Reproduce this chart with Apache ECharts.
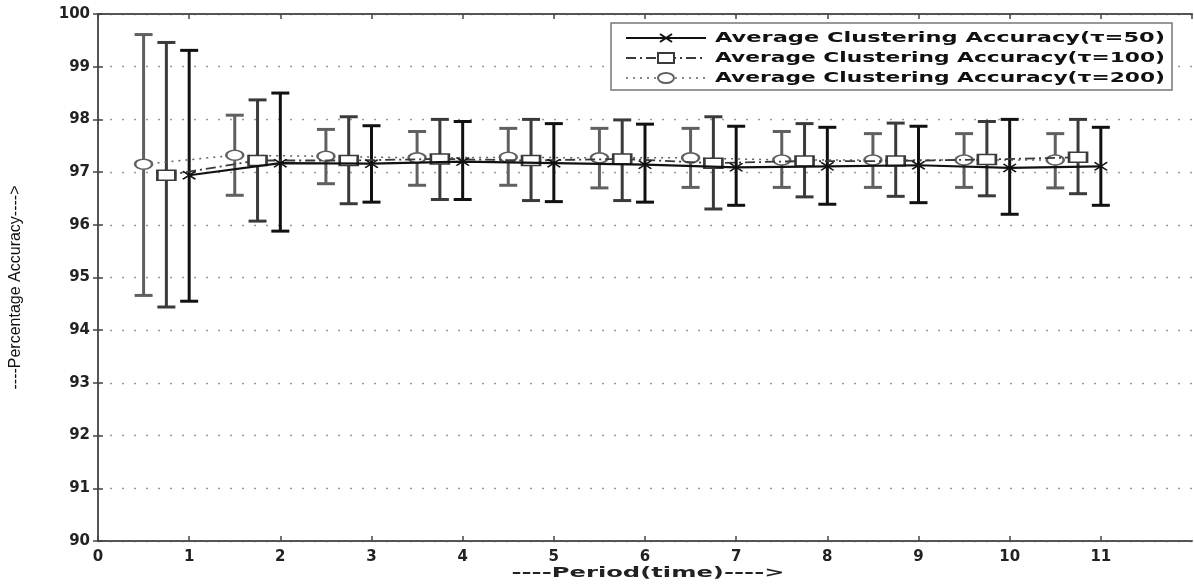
<!DOCTYPE html>
<html><head><meta charset="utf-8">
<script src="https://cdn.jsdelivr.net/npm/echarts@6/dist/echarts.min.js"></script>
<style>html,body{margin:0;padding:0;background:#fff}#c{width:1194px;height:584px}</style>
</head><body><div id="c"></div>
<script>
// ---- data ----
const names = ['Average Clustering Accuracy(\u03c4=50)', 'Average Clustering Accuracy(\u03c4=100)', 'Average Clustering Accuracy(\u03c4=200)'];
const xTitle = '----Period(time)---->';
const yTitle = '----Percentage Accuracy---->';

const period50  = [1, 2, 3, 4, 5, 6, 7, 8, 9, 10, 11];
const mean50    = [96.94, 97.17, 97.16, 97.20, 97.17, 97.14, 97.09, 97.11, 97.13, 97.08, 97.11];
const high50    = [99.31, 98.50, 97.88, 97.96, 97.92, 97.91, 97.87, 97.85, 97.87, 98.00, 97.85];
const low50     = [94.55, 95.88, 96.43, 96.48, 96.44, 96.43, 96.37, 96.39, 96.42, 96.20, 96.37];

const period100 = [0.75, 1.75, 2.75, 3.75, 4.75, 5.75, 6.75, 7.75, 8.75, 9.75, 10.75];
const mean100   = [96.94, 97.22, 97.22, 97.25, 97.22, 97.25, 97.17, 97.21, 97.21, 97.24, 97.28];
const high100   = [99.46, 98.37, 98.05, 98.00, 98.00, 97.99, 98.05, 97.92, 97.93, 97.96, 98.00];
const low100    = [94.44, 96.07, 96.40, 96.48, 96.46, 96.46, 96.30, 96.53, 96.54, 96.55, 96.59];

const period200 = [0.5, 1.5, 2.5, 3.5, 4.5, 5.5, 6.5, 7.5, 8.5, 9.5, 10.5];
const mean200   = [97.15, 97.32, 97.30, 97.27, 97.28, 97.27, 97.27, 97.23, 97.23, 97.23, 97.23];
const high200   = [99.61, 98.08, 97.81, 97.77, 97.83, 97.83, 97.83, 97.77, 97.73, 97.73, 97.73];
const low200    = [94.66, 96.56, 96.78, 96.75, 96.75, 96.70, 96.71, 96.71, 96.71, 96.71, 96.70];

const xMin = 0, xMax = 12, xStep = 1;
const yMin = 90, yMax = 100, yStep = 1;

// ---- styles ----
const C50 = '#111111', C100 = '#3a3a3a', C200 = '#606060';
const DASH100 = [10, 4, 2, 4], DOT200 = [2, 5];
const FONT = '"DejaVu Sans", "Liberation Sans", sans-serif';
const crossPath = 'path://M0,1L1,0L5,4L9,0L10,1L6,5L10,9L9,10L5,6L1,10L0,9L4,5Z';

function errRender(color, lw) {
  return function (params, api) {
    const x = api.value(0), lo = api.value(1), hi = api.value(2);
    const pt = api.coord([x, hi]), pb = api.coord([x, lo]);
    const hw = 9;
    const st = { stroke: color, lineWidth: lw };
    return { type: 'group', children: [
      { type: 'line', shape: { x1: pt[0], y1: pt[1], x2: pb[0], y2: pb[1] }, style: st },
      { type: 'line', shape: { x1: pt[0] - hw, y1: pt[1], x2: pt[0] + hw, y2: pt[1] }, style: st },
      { type: 'line', shape: { x1: pb[0] - hw, y1: pb[1], x2: pb[0] + hw, y2: pb[1] }, style: st }
    ]};
  };
}
const zip3 = (xs, a, b) => xs.map((x, i) => [x, a[i], b[i]]);
const zip2 = (xs, a) => xs.map((x, i) => [x, a[i]]);

// ---- legend (drawn as graphic so the wide, stretched lettering can be matched) ----
const LG = { left: 611, top: 23, width: 561, height: 67, rows: [38, 58, 78], lineX1: 626, lineX2: 706, textX: 715, textW: 450 };
const legendFont = 'bold 14px ' + FONT;
const measureCtx = document.createElement('canvas').getContext('2d');
function measure(t, font) { measureCtx.font = font; return measureCtx.measureText(t).width; }

const legendEls = [{
  type: 'rect', shape: { x: LG.left, y: LG.top, width: LG.width, height: LG.height },
  style: { fill: '#fff', stroke: '#777', lineWidth: 1.5 }, z: 100
}];
const cx = (LG.lineX1 + LG.lineX2) / 2;
const legendStyles = [
  { color: C50, dash: null, lw: 2.2 },
  { color: C100, dash: DASH100, lw: 1.8 },
  { color: C200, dash: DOT200, lw: 1.5 }
];
names.forEach((nm, i) => {
  const cy = LG.rows[i], s = legendStyles[i];
  legendEls.push({ type: 'line', shape: { x1: LG.lineX1, y1: cy, x2: LG.lineX2, y2: cy },
    style: { stroke: s.color, lineWidth: s.lw, lineDash: s.dash }, z: 101 });
  if (i === 0) {
    legendEls.push({ type: 'line', shape: { x1: cx - 6, y1: cy - 4, x2: cx + 6, y2: cy + 4 }, style: { stroke: C50, lineWidth: 2 }, z: 102 });
    legendEls.push({ type: 'line', shape: { x1: cx - 6, y1: cy + 4, x2: cx + 6, y2: cy - 4 }, style: { stroke: C50, lineWidth: 2 }, z: 102 });
  } else if (i === 1) {
    legendEls.push({ type: 'rect', shape: { x: cx - 8, y: cy - 5, width: 16, height: 10 },
      style: { fill: '#fff', stroke: C100, lineWidth: 2 }, z: 102 });
  } else {
    legendEls.push({ type: 'ellipse', shape: { cx: cx, cy: cy, rx: 8, ry: 5 },
      style: { fill: '#fff', stroke: C200, lineWidth: 2 }, z: 102 });
  }
  const w = measure(nm, legendFont);
  legendEls.push({ type: 'text', x: LG.textX, y: cy, scaleX: LG.textW / w, z: 102,
    style: { text: nm, font: legendFont, fill: '#111', align: 'left', verticalAlign: 'middle' } });
});

// x-axis title (stretched like the reference)
const xTitleFont = 'bold 14px ' + FONT;
const xTitleEl = { type: 'text', x: 648, y: 573, scaleX: 273 / measure(xTitle, xTitleFont), z: 50,
  style: { text: xTitle, font: xTitleFont, fill: '#222', align: 'center', verticalAlign: 'middle' } };

const axisCommon = {
  type: 'value', axisLine: { show: true, lineStyle: { color: '#555', width: 2 } },
  axisTick: { show: true, inside: true, length: 5, lineStyle: { color: '#444', width: 1.5 } },
  splitLine: { show: false }
};

const chart = echarts.init(document.getElementById('c'));
chart.setOption({
  backgroundColor: '#fff',
  animation: false,
  grid: { left: 98, right: 2, top: 14, bottom: 43, containLabel: false },
  graphic: legendEls.concat([xTitleEl]),
  xAxis: [
    Object.assign({}, axisCommon, {
      min: xMin, max: xMax, interval: xStep, position: 'bottom',
      axisLabel: { fontFamily: FONT, fontWeight: 'bold', fontSize: 15, color: '#222', margin: 9,
        showMaxLabel: false, formatter: v => (v < xMax ? String(v) : '') }
    }),
    Object.assign({}, axisCommon, {
      min: xMin, max: xMax, interval: xStep, position: 'top', axisLabel: { show: false }
    })
  ],
  yAxis: [
    Object.assign({}, axisCommon, {
      min: yMin, max: yMax, interval: yStep, position: 'left',
      axisLabel: { fontFamily: FONT, fontWeight: 'bold', fontSize: 15, color: '#222', margin: 8 },
      splitLine: { show: true, lineStyle: { color: '#999', width: 1.3, type: [2, 10] } },
      name: yTitle, nameLocation: 'middle', nameGap: 74, nameRotate: 90,
      nameTextStyle: { fontFamily: '"Liberation Sans", sans-serif', fontSize: 16, color: '#111', padding: [0, 20, 0, 0] }
    }),
    Object.assign({}, axisCommon, {
      min: yMin, max: yMax, interval: yStep, position: 'right', axisLabel: { show: false }
    })
  ],
  series: [
    { type: 'custom', name: 'err200', renderItem: errRender(C200, 3), data: zip3(period200, low200, high200),
      encode: { x: 0, y: [1, 2] }, z: 2, silent: true },
    { type: 'custom', name: 'err100', renderItem: errRender(C100, 3), data: zip3(period100, low100, high100),
      encode: { x: 0, y: [1, 2] }, z: 2, silent: true },
    { type: 'custom', name: 'err50', renderItem: errRender(C50, 3), data: zip3(period50, low50, high50),
      encode: { x: 0, y: [1, 2] }, z: 2, silent: true },
    { type: 'line', name: names[2], data: zip2(period200, mean200), z: 3,
      lineStyle: { color: C200, width: 1.5, type: DOT200 },
      symbol: 'emptyCircle', symbolSize: [17, 10], itemStyle: { color: C200, borderColor: C200, borderWidth: 2.5 } },
    { type: 'line', name: names[1], data: zip2(period100, mean100), z: 4,
      lineStyle: { color: C100, width: 1.8, type: DASH100 },
      symbol: 'emptyRect', symbolSize: [18, 10], itemStyle: { color: C100, borderColor: C100, borderWidth: 2.5 } },
    { type: 'line', name: names[0], data: zip2(period50, mean50), z: 5,
      lineStyle: { color: C50, width: 2.2, type: 'solid' },
      symbol: crossPath, symbolSize: [14, 9], itemStyle: { color: C50 } }
  ]
});
</script>
</body></html>
